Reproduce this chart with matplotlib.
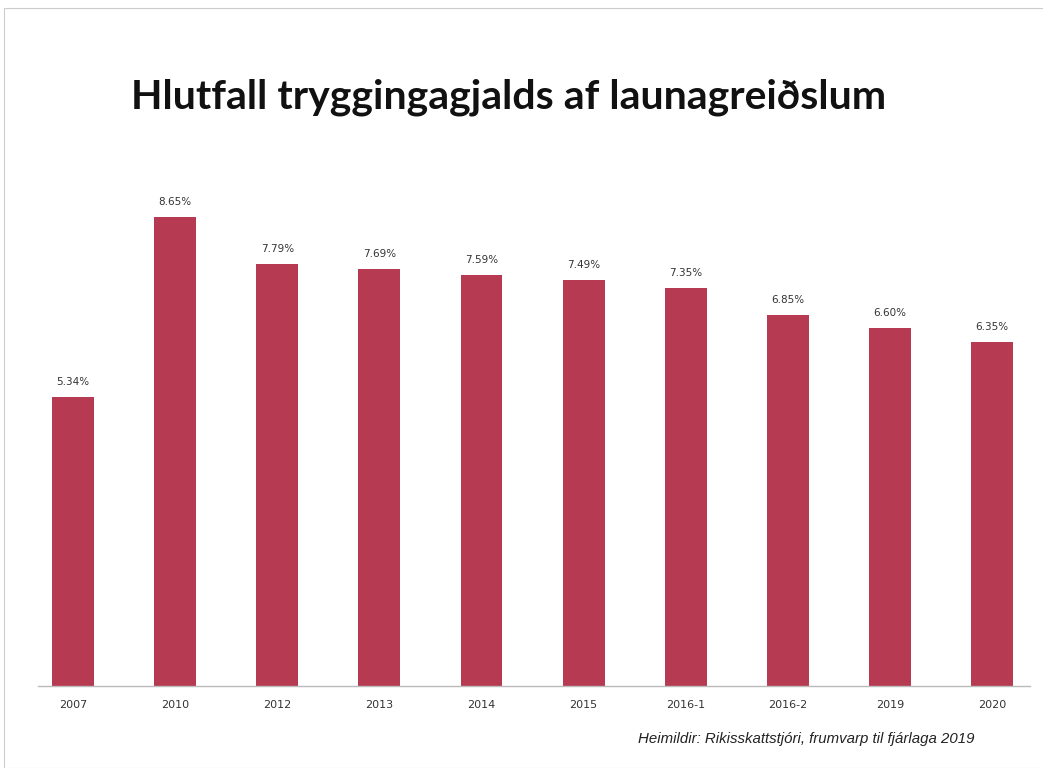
import matplotlib.pyplot as plt
from matplotlib.patches import Rectangle

# Data
categories = ['2007', '2010', '2012', '2013', '2014', '2015', '2016-1', '2016-2', '2019', '2020']
values = [5.34, 8.65, 7.79, 7.69, 7.59, 7.49, 7.35, 6.85, 6.60, 6.35]
labels = ['5.34%', '8.65%', '7.79%', '7.69%', '7.59%', '7.49%', '7.35%', '6.85%', '6.60%', '6.35%']

bar_color = '#B63A52'

fig = plt.figure(figsize=(10.43, 7.68), dpi=100)
ax = fig.add_axes([38 / 1043, 1 - 686 / 768, (1030 - 38) / 1043, (686 - 190) / 768])

x = range(len(categories))
ax.bar(x, values, width=0.41, color=bar_color, zorder=2)
for xi, v, lab in zip(x, values, labels):
    ax.text(xi, v + 0.18, lab, ha='center', va='bottom', fontsize=7.5,
            color='#333333', family='DejaVu Sans')

ax.set_xlim(-0.343, 9.37)
ax.set_ylim(0, 9.15)
ax.set_xticks(list(x))
ax.set_xticklabels(categories, fontsize=8, color='#333333')
ax.tick_params(axis='x', length=0, pad=10)
ax.set_yticks([])
for side in ['top', 'right', 'left']:
    ax.spines[side].set_visible(False)
ax.spines['bottom'].set_color('#bbbbbb')
ax.spines['bottom'].set_linewidth(1)

# Title
fig.text(509 / 1043, 1 - 97 / 768, 'Hlutfall tryggingagjalds af launagreiðslum',
         ha='center', va='center', fontsize=29.5, fontweight='bold',
         family='Lato', color='#111111')

# Source
fig.text(975 / 1043, 1 - 739 / 768, 'Heimildir: Rikisskattstjóri, frumvarp til fjárlaga 2019',
         ha='right', va='center', fontsize=10.8, style='italic',
         family='Liberation Sans', color='#222222')

# Faint scan frame
fig.add_artist(Rectangle((4 / 1043, 0.0), 1.2, 1 - 8 / 768, transform=fig.transFigure,
                         fill=False, edgecolor='#cccccc', linewidth=0.8))

fig.savefig('out.png', dpi=100, facecolor='white')
